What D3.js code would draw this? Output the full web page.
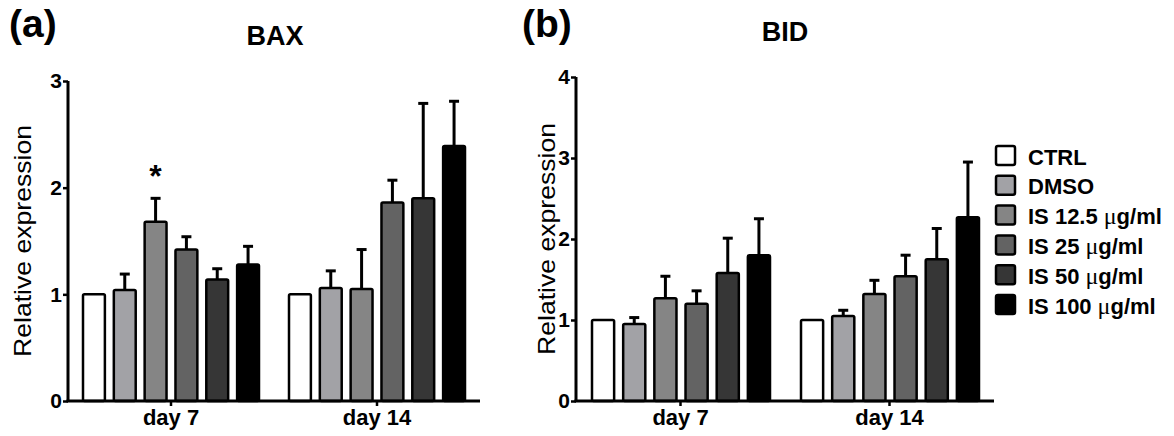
<!DOCTYPE html>
<html>
<head>
<meta charset="utf-8">
<script src="https://cdn.jsdelivr.net/npm/d3@7"></script>
<style>
  body { margin: 0; background: #fff; }
  svg text { font-family: "Liberation Sans", Arial, sans-serif; }
</style>
</head>
<body>
<svg id="chart" width="1174" height="436"></svg>
<script>
// categories and series
var groups = ["day 7", "day 14"]
var series = ["CTRL", "DMSO", "IS 12.5", "IS 25", "IS 50", "IS 100"]
var colors = ["#ffffff", "#a2a2a6", "#858585", "#636363", "#363636", "#000000"]

// BAX (mean, sem) per group
var baxDay7 = [1.00, 1.04, 1.68, 1.42, 1.14, 1.28]
var baxDay7Err = [0, 0.15, 0.22, 0.12, 0.10, 0.17]
var baxDay14 = [1.00, 1.06, 1.05, 1.86, 1.90, 2.39]
var baxDay14Err = [0, 0.16, 0.37, 0.21, 0.89, 0.42]

// BID
var bidDay7 = [1.00, 0.95, 1.27, 1.20, 1.58, 1.80]
var bidDay7Err = [0, 0.08, 0.27, 0.16, 0.43, 0.45]
var bidDay14 = [1.00, 1.05, 1.32, 1.54, 1.75, 2.27]
var bidDay14Err = [0, 0.07, 0.17, 0.26, 0.38, 0.68]

var baxTicks = [0, 1, 2, 3]
var bidTicks = [0, 1, 2, 3, 4]

var svg = d3.select("#chart")

function makeRows(m7, e7, m14, e14) {
  var rows = []
  series.forEach(function (s, i) {
    rows.push({ group: groups[0], series: s, i: i, mean: m7[i], err: e7[i] })
    rows.push({ group: groups[1], series: s, i: i, mean: m14[i], err: e14[i] })
  })
  return rows
}

function drawPanel(opt) {
  var g = svg.append("g")
  var y = d3.scaleLinear().domain([0, opt.ymax]).range([401, opt.ytop])
  var x0 = d3.scaleBand().domain(groups).range([opt.x0, opt.x1])
  var x1 = d3.scaleBand().domain(series)
    .range([opt.inner0, opt.inner1]).paddingInner(0.29)

  var rows = opt.rows
  var cx = function (d) { return x0(d.group) + x1(d.series) + x1.bandwidth() / 2 }

  // error bars (drawn first so the bar outline sits on top)
  var eb = g.selectAll(".err").data(rows.filter(function (d) { return d.err > 0 }))
    .enter().append("g")
  eb.append("line")
    .attr("x1", cx).attr("x2", cx)
    .attr("y1", function (d) { return y(d.mean) })
    .attr("y2", function (d) { return y(d.mean + d.err) })
    .attr("stroke", "#000").attr("stroke-width", 3)
  eb.append("line")
    .attr("x1", function (d) { return cx(d) - 5 })
    .attr("x2", function (d) { return cx(d) + 5 })
    .attr("y1", function (d) { return y(d.mean + d.err) })
    .attr("y2", function (d) { return y(d.mean + d.err) })
    .attr("stroke", "#000").attr("stroke-width", 3)

  g.selectAll(".bar").data(rows).enter().append("rect")
    .attr("x", function (d) { return x0(d.group) + x1(d.series) })
    .attr("y", function (d) { return y(d.mean) })
    .attr("width", x1.bandwidth())
    .attr("height", function (d) { return y(0) - y(d.mean) })
    .attr("rx", 1.5)
    .attr("fill", function (d) { return colors[d.i] })
    .attr("stroke", "#000").attr("stroke-width", 2.5)

  // y axis
  var yAxis = g.append("g").attr("transform", "translate(" + opt.x0 + ",0)")
    .call(d3.axisLeft(y).tickValues(opt.ticks).tickFormat(d3.format("d")).tickSize(5).tickPadding(1))
  yAxis.select(".domain").attr("d", "M0," + opt.ytop + "V401").attr("stroke-width", 3)
  yAxis.selectAll(".tick line").attr("stroke-width", 2.5)
  yAxis.selectAll(".tick text").style("font-size", "21px").style("font-weight", "bold")
    .attr("fill", "#000")

  // x axis
  var xAxis = g.append("g").attr("transform", "translate(0,401)")
    .call(d3.axisBottom(x0).tickSize(5).tickPadding(3))
  xAxis.select(".domain").attr("d", "M" + (opt.x0 - 1.5) + ",0H" + opt.x1).attr("stroke-width", 3)
  xAxis.selectAll(".tick line").attr("stroke-width", 2.5)
  xAxis.selectAll(".tick text").style("font-size", "22px").style("font-weight", "bold")
    .attr("fill", "#000")

  // y title
  g.append("text")
    .attr("transform", "translate(" + opt.ytitleX + "," + ((401 + opt.ytop) / 2) + ") rotate(-90)")
    .attr("text-anchor", "middle").attr("dy", "0.35em")
    .attr("textLength", 232).attr("lengthAdjust", "spacingAndGlyphs")
    .style("font-size", "24px")
    .text("Relative expression")

  // panel letter and title
  svg.append("text").attr("x", opt.letterX).attr("y", 37)
    .style("font-size", "39px").style("font-weight", "bold").text(opt.letter)
  svg.append("text").attr("x", opt.titleX).attr("y", opt.titleY)
    .attr("text-anchor", "middle").style("font-size", "27px").style("font-weight", "bold").text(opt.title)

  return { x0: x0, x1: x1, y: y, g: g }
}

var pa = drawPanel({
  rows: makeRows(baxDay7, baxDay7Err, baxDay14, baxDay14Err),
  ymax: 3, ytop: 81, ticks: baxTicks,
  x0: 68, x1: 480, inner0: 15, inner1: 191,
  ytitleX: 23, letter: "(a)", letterX: 9, title: "BAX", titleX: 275, titleY: 45
})

// significance mark over IS 12.5 day 7
pa.g.append("text")
  .attr("x", pa.x0("day 7") + pa.x1("IS 12.5") + pa.x1.bandwidth() / 2)
  .attr("y", pa.y(baxDay7[2] + baxDay7Err[2]) - 11)
  .attr("text-anchor", "middle").style("font-size", "32px").style("font-weight", "bold")
  .text("*")

drawPanel({
  rows: makeRows(bidDay7, bidDay7Err, bidDay14, bidDay14Err),
  ymax: 4, ytop: 77, ticks: bidTicks,
  x0: 576, x1: 994, inner0: 16, inner1: 194,
  ytitleX: 547, letter: "(b)", letterX: 522, title: "BID", titleX: 785, titleY: 41
})

// legend
var legend = svg.append("g").attr("transform", "translate(996,146)")
var item = legend.selectAll("g").data(series).enter().append("g")
  .attr("transform", function (d, i) { return "translate(0," + (i * 29.8) + ")" })
item.append("rect")
  .attr("width", 19).attr("height", 19).attr("rx", 2)
  .attr("fill", function (d, i) { return colors[i] })
  .attr("stroke", "#000").attr("stroke-width", 2.5)
var lt = item.append("text").attr("x", 32).attr("y", 18.5)
  .style("font-size", "22px").style("font-weight", "bold")
lt.append("tspan").text(function (d) { return d })
lt.filter(function (d) { return d.indexOf("IS") === 0 }).each(function () {
  var t = d3.select(this)
  t.append("tspan").style("font-family", "Liberation Serif, Times New Roman, serif")
    .style("font-weight", "normal").style("font-size", "24px").text(" \u03bc")
  t.append("tspan").text("g/ml")
})
</script>
</body>
</html>
